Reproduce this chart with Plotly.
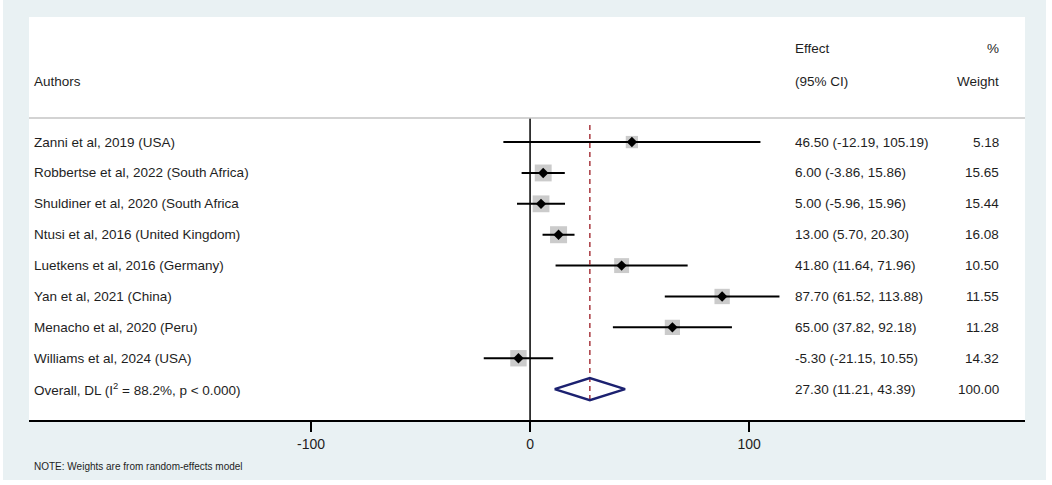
import plotly.graph_objects as go
import numpy as np

studies = [
    "Zanni et al, 2019 (USA)",
    "Robbertse et al, 2022 (South Africa)",
    "Shuldiner et al, 2020 (South Africa",
    "Ntusi et al, 2016 (United Kingdom)",
    "Luetkens et al, 2016 (Germany)",
    "Yan et al, 2021 (China)",
    "Menacho et al, 2020 (Peru)",
    "Williams et al, 2024 (USA)",
]
effect = [46.50, 6.00, 5.00, 13.00, 41.80, 87.70, 65.00, -5.30]
lower = [-12.19, -3.86, -5.96, 5.70, 11.64, 61.52, 37.82, -21.15]
upper = [105.19, 15.86, 15.96, 20.30, 71.96, 113.88, 92.18, 10.55]
weight = [5.18, 15.65, 15.44, 16.08, 10.50, 11.55, 11.28, 14.32]

overall_label = "Overall, DL (I<sup>2</sup> = 88.2%, p &lt; 0.000)"
overall_effect = 27.30
overall_lower = 11.21
overall_upper = 43.39
overall_weight = 100.00

x_ticks = [-100, 0, 100]
note = "NOTE: Weights are from random-effects model"

FONT = "Liberation Sans, Arial, sans-serif"
TXT = "#1e1e1e"
FS = 13.5
n = len(studies)
rows = list(range(n))
ov_row = n

fig = go.Figure()

# weight squares
sizes = [6.0 + 2.75 * np.sqrt(w) for w in weight]
fig.add_trace(go.Scatter(
    x=effect, y=rows, mode="markers",
    marker=dict(symbol="square", size=sizes, color="#b5b5b5", line=dict(width=0)),
    hoverinfo="skip", showlegend=False))

# CI lines + point estimates
fig.add_trace(go.Scatter(
    x=effect, y=rows, mode="markers",
    marker=dict(symbol="diamond", size=8, color="black"),
    error_x=dict(type="data", symmetric=False,
                 array=[u - e for u, e in zip(upper, effect)],
                 arrayminus=[e - l for e, l in zip(effect, lower)],
                 color="black", thickness=2, width=0),
    hoverinfo="skip", showlegend=False))

# zero line
fig.add_trace(go.Scatter(x=[0, 0], y=[-0.78, 9.0], mode="lines",
                         line=dict(color="black", width=1.5),
                         hoverinfo="skip", showlegend=False))

# overall dashed line
fig.add_trace(go.Scatter(x=[overall_effect, overall_effect], y=[-0.55, ov_row + 0.45],
                         mode="lines",
                         line=dict(color="#a8383f", width=1.5, dash="5px,4px"),
                         hoverinfo="skip", showlegend=False))

# overall diamond
h = 0.36
fig.add_trace(go.Scatter(
    x=[overall_lower, overall_effect, overall_upper, overall_effect, overall_lower],
    y=[ov_row, ov_row - h, ov_row, ov_row + h, ov_row],
    mode="lines", line=dict(color="#1c2170", width=2.4),
    hoverinfo="skip", showlegend=False))

ann = []
def add_text(x, y, text, anchor="left", size=FS):
    ann.append(dict(x=x, y=y, xref="paper", yref="y", text=text, showarrow=False,
                    xanchor=anchor, yanchor="middle",
                    font=dict(family=FONT, size=size, color=TXT)))

X_LABEL = 0.003
X_EFF = 0.767
X_W = 0.976

add_text(X_LABEL, -1.97, "Authors")
add_text(X_EFF, -3.04, "Effect")
add_text(X_EFF, -1.97, "(95% CI)")
add_text(X_W, -3.04, "%", anchor="right")
add_text(X_W, -1.97, "Weight", anchor="right")

for i in range(n):
    add_text(X_LABEL, rows[i], studies[i])
    add_text(X_EFF, rows[i], f"{effect[i]:.2f} ({lower[i]:.2f}, {upper[i]:.2f})")
    add_text(X_W, rows[i], f"{weight[i]:.2f}", anchor="right")

add_text(X_LABEL, ov_row, overall_label)
add_text(X_EFF, ov_row, f"{overall_effect:.2f} ({overall_lower:.2f}, {overall_upper:.2f})")
add_text(X_W, ov_row, f"{overall_weight:.2f}", anchor="right")

ann.append(dict(x=0.003, y=-0.1166, xref="paper", yref="paper", yanchor="middle",
                text=note, showarrow=False, xanchor="left",
                font=dict(family=FONT, size=10, color=TXT)))

shapes = [
    dict(type="line", xref="paper", yref="y", x0=0, x1=1, y0=-0.78, y1=-0.78,
         line=dict(color="#c4c4c4", width=1.5)),
    # thin white image borders
    dict(type="rect", xref="paper", yref="paper", x0=-0.0300, x1=-0.0261, y0=-0.17, y1=1.05,
         fillcolor="white", line=dict(width=0), layer="above"),
    dict(type="rect", xref="paper", yref="paper", x0=1.0211, x1=1.03, y0=-0.17, y1=1.05,
         fillcolor="white", line=dict(width=0), layer="above"),
    dict(type="rect", xref="paper", yref="paper", x0=-0.03, x1=1.03, y0=-0.17, y1=-0.1489,
         fillcolor="white", line=dict(width=0), layer="above"),
]

fig.update_layout(
    width=1052, height=485,
    margin=dict(l=29, r=27, t=17, b=65),
    paper_bgcolor="#e9f1f3", plot_bgcolor="white",
    annotations=ann, shapes=shapes,
    xaxis=dict(range=[-228.8, 226.0], tickvals=x_ticks, ticktext=[str(t) for t in x_ticks],
               showgrid=False, zeroline=False, showline=True, linecolor="black",
               linewidth=1.5, ticks="outside", ticklen=10, tickwidth=1.5, tickcolor="black",
               tickfont=dict(family=FONT, size=14, color=TXT), fixedrange=True),
    yaxis=dict(range=[9.0, -4.05], showgrid=False, zeroline=False, showticklabels=False,
               showline=False, fixedrange=True),
    font=dict(family=FONT),
)

fig.write_html("out.html", config={"displayModeBar": False},
               post_script="document.body.style.margin='0';document.body.style.overflow='hidden';")
